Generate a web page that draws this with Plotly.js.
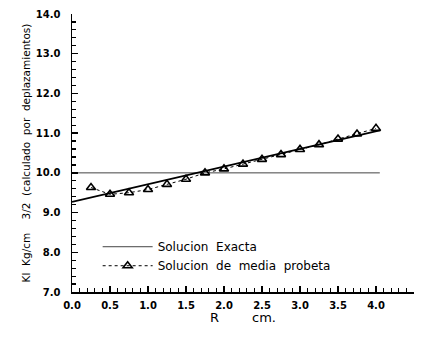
<!DOCTYPE html>
<html>
<head>
<meta charset="utf-8">
<script src="https://cdn.plot.ly/plotly-3.0.1.min.js"></script>
<style>html,body{margin:0;padding:0;background:#fff;}#chart{width:422px;height:348px;}</style>
</head>
<body>
<div id="chart"></div>
<script>
// Data
const rValues = [0.25, 0.5, 0.75, 1.0, 1.25, 1.5, 1.75, 2.0, 2.25, 2.5, 2.75, 3.0, 3.25, 3.5, 3.75, 4.0];
const kMediaProbeta = [9.63, 9.46, 9.50, 9.58, 9.71, 9.84, 10.0, 10.10, 10.22, 10.34, 10.46, 10.59, 10.71, 10.85, 10.98, 11.12];
const exactX = [0, 4.05];
const exactY = [10.0, 10.0];
const fitX = [0, 4.05];
const fitY = [9.27, 11.07];
const xTickVals = [0, 0.5, 1.0, 1.5, 2.0, 2.5, 3.0, 3.5, 4.0, 4.5];
const yTickVals = [7, 8, 9, 10, 11, 12, 13, 14];

const xRange = [xTickVals[0], xTickVals[xTickVals.length - 1]];
const yRange = [yTickVals[0], yTickVals[yTickVals.length - 1]];
const tickFont = {family: "DejaVu Sans, sans-serif", size: 10, color: "#000", weight: 700};

const traces = [
  {
    x: exactX, y: exactY, mode: "lines", name: "Solucion  Exacta",
    line: {color: "#444", width: 1}
  },
  {
    x: rValues, y: kMediaProbeta, mode: "lines+markers", name: "Solucion  de  media  probeta",
    line: {color: "#000", width: 1, dash: "3px,3px"},
    marker: {symbol: "triangle-up-open", size: 8, color: "#000", line: {width: 1.6, color: "#000"}}
  },
  {
    x: fitX, y: fitY, mode: "lines", showlegend: false,
    line: {color: "#000", width: 1.8}
  }
];

const layout = {
  width: 422, height: 348,
  margin: {l: 72, r: 8, t: 14, b: 56},
  paper_bgcolor: "#fff", plot_bgcolor: "#fff",
  showlegend: true,
  legend: {
    x: 0.075, y: 0.215, xanchor: "left", yanchor: "top",
    bgcolor: "rgba(0,0,0,0)", borderwidth: 0,
    font: {family: "DejaVu Sans, sans-serif", size: 12, color: "#000"},
    itemwidth: 50, tracegroupgap: 0
  },
  xaxis: {
    range: xRange,
    tickmode: "linear", tick0: xTickVals[0], dtick: xTickVals[1] - xTickVals[0], tickformat: ".1f",
    showgrid: false, zeroline: false, showline: true, linecolor: "#000", linewidth: 1.5,
    ticks: "inside", ticklen: 6, tickwidth: 1.5, tickcolor: "#000",
    minor: {ticks: "inside", dtick: 0.1, ticklen: 4, tickwidth: 1.2, tickcolor: "#000"},
    tickfont: tickFont, ticklabelstandoff: 3,
    title: {text: "R        cm.", font: {family: "DejaVu Sans, sans-serif", size: 13, color: "#000"}, standoff: 2}
  },
  yaxis: {
    range: yRange,
    tickmode: "linear", tick0: yTickVals[0], dtick: yTickVals[1] - yTickVals[0], tickformat: ".1f",
    showgrid: false, zeroline: false, showline: true, linecolor: "#000", linewidth: 1.5,
    ticks: "inside", ticklen: 6, tickwidth: 1.5, tickcolor: "#000",
    minor: {ticks: "inside", dtick: 0.2, ticklen: 4, tickwidth: 1.2, tickcolor: "#000"},
    tickfont: tickFont, ticklabelstandoff: 8,
    title: {text: "Kl  Kg/cm    3/2  (calculado  por  deplazamientos)", font: {family: "DejaVu Sans, sans-serif", size: 10.5, color: "#000"}, standoff: 3}
  }
};

Plotly.newPlot("chart", traces, layout, {staticPlot: true, displayModeBar: false});
</script>
</body>
</html>
